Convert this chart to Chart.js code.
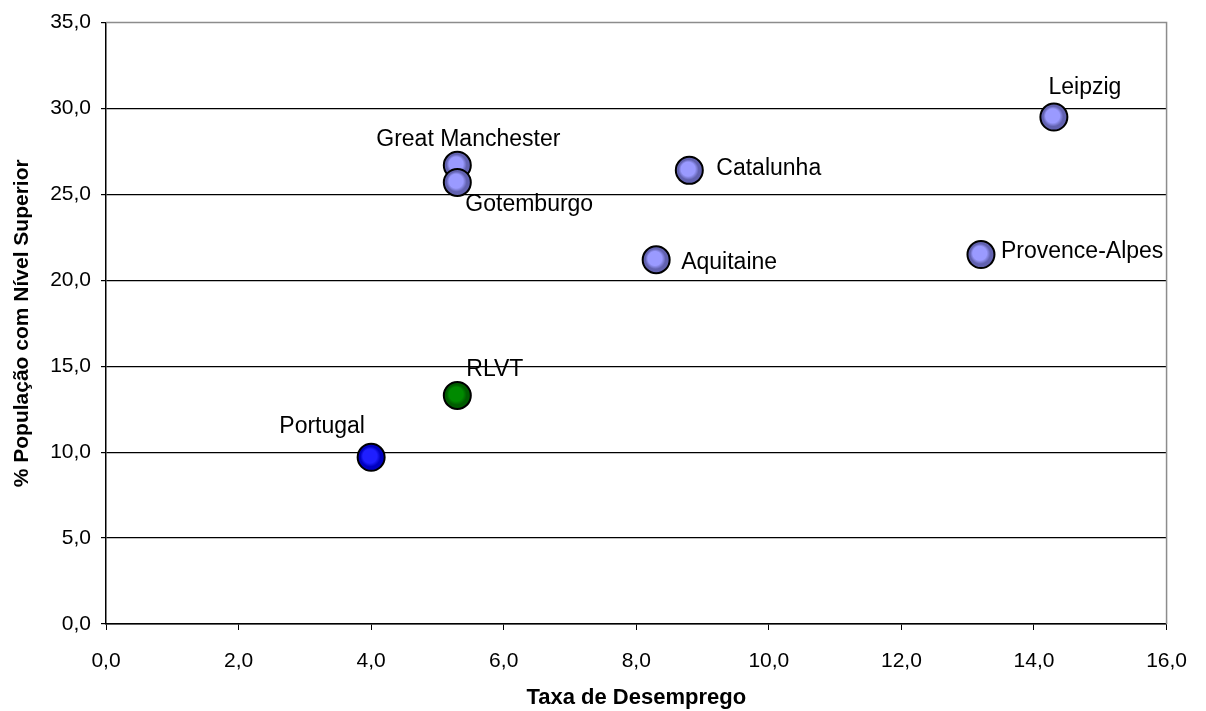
<!DOCTYPE html>
<html>
<head>
<meta charset="utf-8">
<script src="https://cdn.jsdelivr.net/npm/chart.js@4.4.1/dist/chart.umd.min.js"></script>
<style>
  html, body { margin: 0; padding: 0; background: #fff; }
  #wrap { width: 1206px; height: 711px; position: relative; }
</style>
</head>
<body>
<div id="wrap"><canvas id="chart"></canvas></div>
<script>
// data
const regions = ['Great Manchester', 'Gotemburgo', 'Catalunha', 'Aquitaine', 'Leipzig', 'Provence-Alpes', 'RLVT', 'Portugal'];
const unemployment = [5.3, 5.3, 8.8, 8.3, 14.3, 13.2, 5.3, 4.0];
const higherEd = [26.7, 25.7, 26.4, 21.2, 29.5, 21.5, 13.3, 9.7];
const groups = ['eu', 'eu', 'eu', 'eu', 'eu', 'eu', 'rlvt', 'pt'];

// label placement relative to the point (px), alignment
const labelOffsets = [
  { dx: 11, dy: -19, align: 'center' },
  { dx: 8,  dy: 29,  align: 'left' },
  { dx: 27, dy: 5,   align: 'left' },
  { dx: 25, dy: 9,   align: 'left' },
  { dx: 31, dy: -23, align: 'center' },
  { dx: 20, dy: 3,   align: 'left' },
  { dx: 9,  dy: -19, align: 'left' },
  { dx: -49, dy: -24, align: 'center' },
];

const SHADES = {
  eu:   { light: '#9a9aff', dark: '#6262b0' },
  rlvt: { light: '#008a00', dark: '#005c00' },
  pt:   { light: '#1f1fff', dark: '#0000c0' },
};

const FONT = "'Liberation Sans', Arial, sans-serif";
const fmt = v => Number(v).toFixed(1).replace('.', ',');

function shadedFill(c) {
  const shade = SHADES[groups[c.dataIndex]] || SHADES.eu;
  const chart = c.chart;
  const xs = chart.scales.x, ys = chart.scales.y;
  if (!chart.chartArea || !xs || !ys) return shade.light;
  const cx = xs.getPixelForValue(unemployment[c.dataIndex]);
  const cy = ys.getPixelForValue(higherEd[c.dataIndex]);
  const g = chart.ctx.createRadialGradient(cx - 2.5, cy - 2.5, 0, cx, cy, 14);
  g.addColorStop(0, shade.light);
  g.addColorStop(0.5, shade.light);
  g.addColorStop(0.72, shade.dark);
  g.addColorStop(1, shade.dark);
  return g;
}

const pointLabels = {
  id: 'pointLabels',
  afterDatasetsDraw(chart) {
    const ctx = chart.ctx;
    const meta = chart.getDatasetMeta(0);
    ctx.save();
    ctx.font = '23px ' + FONT;
    ctx.fillStyle = '#000';
    ctx.textBaseline = 'alphabetic';
    meta.data.forEach((pt, i) => {
      const o = labelOffsets[i];
      ctx.textAlign = o.align;
      ctx.fillText(regions[i], pt.x + o.dx, pt.y + o.dy);
    });
    ctx.restore();
  }
};

// grey frame on top/right like the Excel plot area
const plotFrame = {
  id: 'plotFrame',
  beforeDatasetsDraw(chart) {
    const { ctx, chartArea: a } = chart;
    ctx.save();
    ctx.strokeStyle = '#8c8c8c';
    ctx.lineWidth = 1.5;
    ctx.beginPath();
    ctx.moveTo(a.left, a.top);
    ctx.lineTo(a.right, a.top);
    ctx.lineTo(a.right, a.bottom);
    ctx.stroke();
    ctx.restore();
  }
};

new Chart(document.getElementById('chart'), {
  type: 'scatter',
  data: {
    datasets: [{
      label: 'Regiões',
      data: unemployment.map((x, i) => ({ x, y: higherEd[i] })),
      pointRadius: 13.5,
      pointHoverRadius: 13.5,
      borderWidth: 2,
      borderColor: '#000',
      backgroundColor: shadedFill,
    }]
  },
  options: {
    responsive: true,
    maintainAspectRatio: false,
    animation: false,
    layout: { padding: { top: 20, right: 39, left: 0, bottom: 0 } },
    plugins: { legend: { display: false }, tooltip: { enabled: false } },
    scales: {
      x: {
        type: 'linear', min: 0, max: 16,
        ticks: { stepSize: 2, callback: fmt, color: '#000', padding: 19, font: { family: FONT, size: 21 } },
        grid: { drawOnChartArea: false, tickLength: 6, tickColor: '#000' },
        border: { color: '#000', width: 1.5 },
        title: { display: true, text: 'Taxa de Desemprego', color: '#000',
                 font: { family: FONT, size: 22, weight: 'bold' }, padding: { top: 0, bottom: 0 } },
        afterFit(s) { s.height = 87; }
      },
      y: {
        type: 'linear', min: 0, max: 35,
        ticks: { stepSize: 5, callback: fmt, color: '#000', padding: 10, font: { family: FONT, size: 21 } },
        grid: {
          color: c => (c.tick && c.tick.value === 35 ? 'rgba(0,0,0,0)' : '#000'),
          lineWidth: 1.2, tickLength: 5, tickColor: '#000'
        },
        border: { color: '#000', width: 1.5 },
        title: { display: true, text: '% População com Nível Superior', color: '#000',
                 font: { family: FONT, size: 21, weight: 'bold' }, padding: { top: 10, bottom: 0 } },
        afterFit(s) { s.width = 106; }
      }
    }
  },
  plugins: [plotFrame, pointLabels]
});
</script>
</body>
</html>
